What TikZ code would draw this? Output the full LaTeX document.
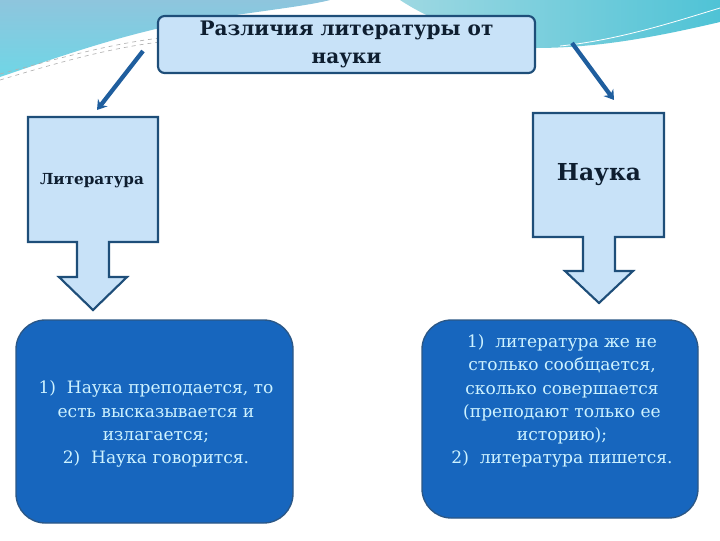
\documentclass[tikz,border=0pt]{standalone}
\usepackage{fontspec}
\setmainfont{DejaVu Serif}
\usetikzlibrary{arrows.meta}
\definecolor{skyA}{HTML}{8EC5DD}
\definecolor{skyB}{HTML}{6FD6E6}
\definecolor{tealA}{HTML}{9ED8E2}
\definecolor{tealB}{HTML}{4FC3D6}
\definecolor{lightfill}{HTML}{C8E2F8}
\definecolor{darkline}{HTML}{1E4E79}
\definecolor{bigfill}{HTML}{1766BE}
\definecolor{bigline}{HTML}{2B5786}
\definecolor{bigtext}{HTML}{CDF2FF}
\definecolor{arrowcol}{HTML}{1F5E9E}
\definecolor{titletext}{HTML}{0E1E30}
\tikzset{
  titlebox/.style={draw=darkline, line width=1.6pt, fill=lightfill, rounded corners=5pt},
  smallbox/.style={draw=darkline, line width=1.6pt, fill=lightfill},
  bigbox/.style={draw=bigline, line width=1pt, fill=bigfill, rounded corners=22pt},
  bigtxt/.style={text=bigtext, align=center, font=\fontsize{12.8}{17.3}\selectfont},
  linkarrow/.style={draw=arrowcol, line width=3.2pt, -{Stealth[length=7pt,width=9pt]}}
}
\begin{document}
\begin{tikzpicture}[x=0.75pt,y=-0.75pt]
\useasboundingbox (0,0) rectangle (720,540);
% background swooshes
\shade[top color=skyA, bottom color=skyB] (0,0) -- (330,0) .. controls (300,8) and (220,15) .. (160,28) .. controls (100,42) and (50,60) .. (0,77) -- cycle;
\shade[left color=tealA, right color=tealB] (400,0) -- (720,0) -- (720,22) .. controls (660,36) and (600,48) .. (535,48) .. controls (480,40) and (430,20) .. (400,0) -- cycle;
\draw[gray!60, dashed, line width=0.5pt] (0,80) .. controls (60,62) and (110,48) .. (160,42);
\draw[gray!60, dashed, line width=0.5pt] (0,74) .. controls (60,58) and (110,44) .. (160,38);
\draw[white, line width=0.6pt] (560,46) .. controls (620,40) and (680,20) .. (720,8);
% title
\node[titlebox, minimum width=377*0.75pt, minimum height=57*0.75pt, inner sep=0pt, text=titletext, align=center, font=\bfseries\fontsize{15}{21}\selectfont] (title) at (346.5,44.5) {Различия литературы от\\науки};
% link arrows
\coordinate (ls) at (143,51);
\coordinate (le) at (97,110);
\coordinate (rs) at (572,43);
\coordinate (re) at (614,100);
\draw[linkarrow] (ls) -- (le);
\draw[linkarrow] (rs) -- (re);
% left block arrow
\draw[smallbox] (28,117) -- (158,117) -- (158,242) -- (109,242) -- (109,277) -- (127,277) -- (93,310) -- (59,277) -- (77,277) -- (77,242) -- (28,242) -- cycle;
\node[text=titletext, font=\bfseries\fontsize{11.4}{13}\selectfont] (lit) at (92,181) {Литература};
% right block arrow
\draw[smallbox] (533,113) -- (664,113) -- (664,237) -- (615,237) -- (615,271) -- (633,271) -- (599,303) -- (565,271) -- (583,271) -- (583,237) -- (533,237) -- cycle;
\node[text=titletext, font=\bfseries\fontsize{17.5}{20}\selectfont] (nauka) at (599,175) {Наука};
% big boxes
\draw[bigbox] (16,320) rectangle (293,523);
\node[bigtxt] (ltxt) at (156,424) {1)\ \ Наука преподается, то\\есть высказывается и\\излагается;\\2)\ \ Наука говорится.};
\draw[bigbox] (422,320) rectangle (698,518);
\node[bigtxt] (rtxt) at (562,401) {1)\ \ литература же не\\столько сообщается,\\сколько совершается\\(преподают только ее\\историю);\\2)\ \ литература пишется.};
\end{tikzpicture}
\end{document}
